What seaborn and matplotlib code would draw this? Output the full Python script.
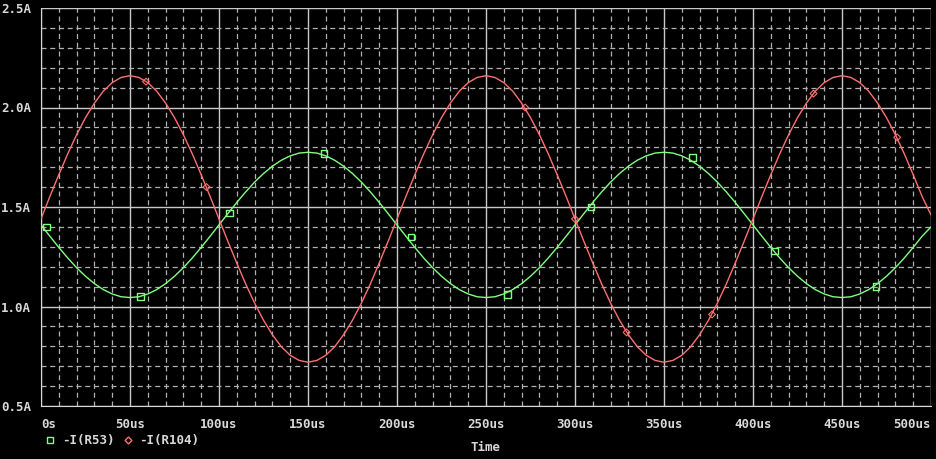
import numpy as np
import pandas as pd
import matplotlib
matplotlib.use("Agg")
import matplotlib.pyplot as plt
import seaborn as sns
from matplotlib.lines import Line2D
from matplotlib.ticker import MultipleLocator

# time axis in us, read every 5us
time_us = list(range(0, 505, 5))

i_r104 = [1.440,
          1.553, 1.662, 1.767, 1.863, 1.949, 2.022, 2.082, 2.125, 2.151, 2.160,
          2.151, 2.125, 2.082, 2.022, 1.949, 1.863, 1.767, 1.662, 1.553, 1.440,
          1.327, 1.218, 1.113, 1.017, 0.931, 0.858, 0.798, 0.755, 0.729, 0.720,
          0.729, 0.755, 0.798, 0.858, 0.931, 1.017, 1.113, 1.218, 1.327, 1.440,
          1.553, 1.662, 1.767, 1.863, 1.949, 2.022, 2.082, 2.125, 2.151, 2.160,
          2.151, 2.125, 2.082, 2.022, 1.949, 1.863, 1.767, 1.662, 1.553, 1.440,
          1.327, 1.218, 1.113, 1.017, 0.931, 0.858, 0.798, 0.755, 0.729, 0.720,
          0.729, 0.755, 0.798, 0.858, 0.931, 1.017, 1.113, 1.218, 1.327, 1.440,
          1.553, 1.662, 1.767, 1.863, 1.949, 2.022, 2.082, 2.125, 2.151, 2.160,
          2.151, 2.125, 2.082, 2.022, 1.949, 1.863, 1.767, 1.662, 1.553, 1.460]

i_r53 = [1.410,
         1.353, 1.297, 1.244, 1.195, 1.152, 1.115, 1.085, 1.063, 1.049, 1.045,
         1.049, 1.063, 1.085, 1.115, 1.152, 1.195, 1.244, 1.297, 1.353, 1.410,
         1.467, 1.523, 1.576, 1.625, 1.668, 1.705, 1.735, 1.757, 1.771, 1.775,
         1.771, 1.757, 1.735, 1.705, 1.668, 1.625, 1.576, 1.523, 1.467, 1.410,
         1.353, 1.297, 1.244, 1.195, 1.152, 1.115, 1.085, 1.063, 1.049, 1.045,
         1.049, 1.063, 1.085, 1.115, 1.152, 1.195, 1.244, 1.297, 1.353, 1.410,
         1.467, 1.523, 1.576, 1.625, 1.668, 1.705, 1.735, 1.757, 1.771, 1.775,
         1.771, 1.757, 1.735, 1.705, 1.668, 1.625, 1.576, 1.523, 1.467, 1.410,
         1.353, 1.297, 1.244, 1.195, 1.152, 1.115, 1.085, 1.063, 1.049, 1.045,
         1.049, 1.063, 1.085, 1.115, 1.152, 1.195, 1.244, 1.297, 1.353, 1.400]

# marker positions on each trace
r53_mark_t = [3, 56, 106, 159, 208, 262, 309, 366, 412, 469]
r53_mark_v = [1.40, 1.05, 1.47, 1.77, 1.35, 1.06, 1.50, 1.75, 1.28, 1.10]
r104_mark_t = [59, 93, 272, 300, 329, 377, 434, 481]
r104_mark_v = [2.13, 1.60, 2.00, 1.44, 0.87, 0.96, 2.07, 1.85]

x_ticks = [0, 50, 100, 150, 200, 250, 300, 350, 400, 450, 500]
x_labels = ["0s", "50us", "100us", "150us", "200us", "250us", "300us",
            "350us", "400us", "450us", "500us"]
y_ticks = [0.5, 1.0, 1.5, 2.0, 2.5]
y_labels = ["0.5A", "1.0A", "1.5A", "2.0A", "2.5A"]

green = "#80ff80"
red = "#ff7070"
fg = "#d8d8d8"

sns.set_style("dark")
plt.rcParams["font.family"] = ["DejaVu Sans Mono", "DejaVu Sans"]

fig = plt.figure(figsize=(9.36, 4.59), dpi=100, facecolor="black")
ax = fig.add_axes([41 / 936, 1 - 406 / 459, 890 / 936, 398 / 459])
ax.set_facecolor("black")

df = pd.DataFrame({"t": time_us, "r53": i_r53, "r104": i_r104})
sns.lineplot(data=df, x="t", y="r53", ax=ax, color=green, lw=1.0, zorder=3)
sns.lineplot(data=df, x="t", y="r104", ax=ax, color=red, lw=1.0, zorder=3)
sns.scatterplot(x=r53_mark_t, y=r53_mark_v, ax=ax, marker="s", s=22,
                facecolor="none", edgecolor=green, linewidth=1.0, zorder=4)
sns.scatterplot(x=r104_mark_t, y=r104_mark_v, ax=ax, marker="D", s=12,
                facecolor="none", edgecolor=red, linewidth=0.8, zorder=4)

ax.set_xlim(0, 500)
ax.set_ylim(0.5, 2.5)
ax.set_xticks(x_ticks)
ax.set_yticks(y_ticks)
ax.xaxis.set_minor_locator(MultipleLocator(10))
ax.yaxis.set_minor_locator(MultipleLocator(0.1))
ax.grid(which="major", color="#c8c8c8", lw=1.0, ls="-")
ax.grid(which="minor", color="#b0b0b0", lw=0.9, ls=(0, (4, 3)))
ax.set_axisbelow(True)
for s in ax.spines.values():
    s.set_visible(False)
ax.spines["left"].set_visible(True)
ax.spines["bottom"].set_visible(True)
ax.spines["left"].set_color(fg)
ax.spines["bottom"].set_color(fg)

ax.set_xticklabels(x_labels)
ax.set_yticklabels(y_labels)
ax.tick_params(which="major", colors=fg, labelsize=9, length=4, width=1,
               direction="out", pad=3)
ax.tick_params(which="minor", length=0)
ax.tick_params(axis="x", pad=5)
xt = ax.get_xticklabels()
xt[0].set_ha("left")
xt[-1].set_ha("right")
for lab in ax.get_xticklabels() + ax.get_yticklabels():
    lab.set_fontweight("bold")
ax.set_xlabel("Time", color=fg, fontsize=9, fontweight="bold", labelpad=7)
ax.set_ylabel("")

handles = [Line2D([], [], ls="none", marker="s", markersize=4.5,
                  markerfacecolor="none", markeredgecolor=green, label="-I(R53)"),
           Line2D([], [], ls="none", marker="D", markersize=3.5,
                  markerfacecolor="none", markeredgecolor=red, label="-I(R104)")]
leg = ax.legend(handles=handles, loc="upper left", bbox_to_anchor=(-0.002, -0.058),
                ncol=2, frameon=False, handlelength=1.0, handletextpad=0.4,
                columnspacing=0.6, borderaxespad=0, prop={"size": 9, "weight": "bold"})
for t in leg.get_texts():
    t.set_color(fg)

fig.savefig("out.png", dpi=100, facecolor="black")
